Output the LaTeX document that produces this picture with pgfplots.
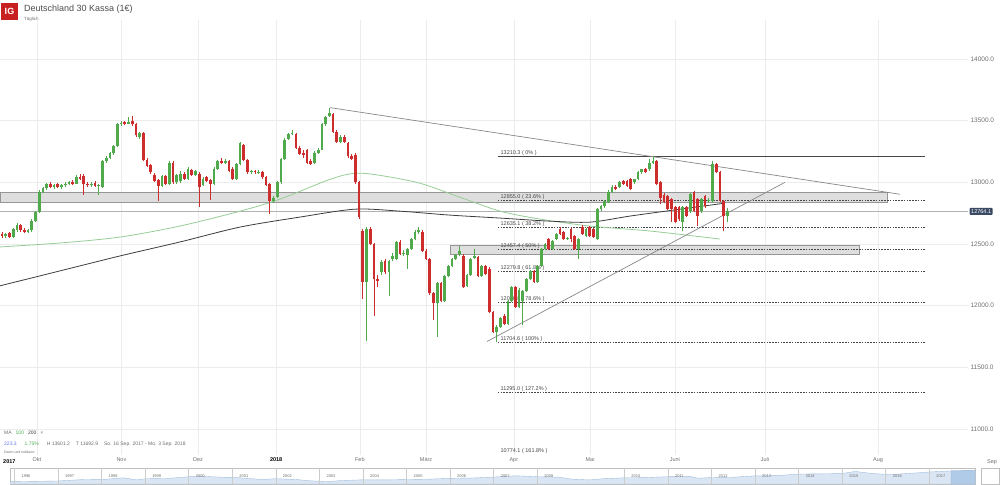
\documentclass[border=0pt]{standalone}
\usepackage{pgfplots}
\usepackage{pgfplotstable}
\pgfplotsset{compat=1.18}
\usepackage{fontspec}
\setmainfont{Liberation Sans}

\definecolor{upc}{RGB}{80,170,75}
\definecolor{dnc}{RGB}{205,45,45}
\definecolor{gridc}{RGB}{236,236,236}
\definecolor{fibc}{RGB}{70,70,70}
\definecolor{maone}{RGB}{150,205,150}
\definecolor{matwo}{RGB}{60,60,60}
\definecolor{trendc}{RGB}{135,135,135}
\definecolor{bandf}{RGB}{222,222,222}
\definecolor{bandd}{RGB}{150,150,150}
\definecolor{pricebox}{RGB}{59,74,100}
\definecolor{navfill}{RGB}{218,230,243}
\definecolor{navline}{RGB}{160,190,220}
\definecolor{navsel}{RGB}{175,203,232}
\definecolor{igred}{RGB}{200,32,32}
\definecolor{txtc}{RGB}{110,110,110}

% daily candles: index, open, high, low, close
\pgfplotstableread{
i o h l c
0 12580 12600 12550 12565
1 12565 12590 12550 12580
2 12585 12600 12550 12560
3 12560 12630 12545 12620
4 12615 12670 12600 12655
5 12655 12665 12600 12610
6 12615 12630 12590 12600
7 12595 12625 12585 12610
8 12610 12700 12600 12690
9 12690 12770 12680 12760
10 12760 12935 12750 12925
11 12925 12965 12915 12955
12 12955 12995 12940 12985
13 12985 13000 12955 12965
14 12960 12990 12945 12980
15 12985 12995 12950 12960
16 12960 12985 12945 12975
17 12975 13000 12965 12990
18 12985 13010 12975 13000
19 13000 13015 12980 12990
20 12990 13060 12985 13045
21 13045 13065 13020 13030
22 13050 13070 12900 12990
23 12990 13000 12960 12975
24 12975 13000 12965 12990
25 12995 13010 12960 12970
26 12970 12985 12900 12975
27 12960 13180 12955 13170
28 13170 13210 13160 13200
29 13200 13245 13190 13235
30 13235 13300 13225 13290
31 13290 13480 13285 13470
32 13470 13495 13460 13480
33 13490 13500 13465 13475
34 13475 13530 13470 13490
35 13500 13540 13460 13470
36 13470 13480 13370 13380
37 13365 13410 13350 13400
38 13400 13410 13170 13180
39 13180 13195 13120 13130
40 13140 13150 13070 13080
41 13060 13075 13000 13010
42 13020 13030 12850 12970
43 12970 13060 12960 13050
44 13050 13060 12980 12990
45 12990 13170 12980 13160
46 13160 13170 12990 13000
47 13000 13070 12990 13060
48 13010 13090 12995 13070
49 13070 13080 13020 13030
50 13030 13120 13020 13110
51 13100 13110 13050 13060
52 13060 13100 13050 13090
53 13070 13080 12800 12960
54 12980 13040 12970 13030
55 13040 13050 13000 13010
56 13020 13030 12860 12990
57 12990 13120 12980 13110
58 13110 13180 13100 13170
59 13170 13200 13150 13160
60 13160 13190 13150 13170
61 13170 13180 13080 13090
62 13110 13120 13020 13030
63 13030 13160 13020 13145
64 13145 13330 13140 13320
65 13300 13310 13170 13180
66 13180 13190 13070 13080
67 13080 13100 13070 13090
68 13090 13100 13070 13080
69 13080 13100 13070 13085
70 13085 13095 13030 13040
71 13040 13050 12970 12980
72 12985 12995 12740 12845
73 12850 12890 12830 12870
74 12880 13010 12870 13000
75 13000 13195 12990 13185
76 13185 13355 13180 13345
77 13350 13400 13340 13390
78 13390 13420 13380 13400
79 13390 13400 13270 13280
80 13280 13290 13220 13230
81 13240 13260 13200 13220
82 13260 13270 13150 13160
83 13170 13185 13140 13150
84 13160 13250 13150 13240
85 13240 13280 13230 13265
86 13265 13480 13260 13470
87 13470 13535 13460 13525
88 13540 13605 13530 13560
89 13550 13560 13400 13410
90 13410 13420 13320 13330
91 13330 13380 13320 13370
92 13370 13380 13320 13330
93 13320 13330 13200 13210
94 13210 13230 13180 13190
95 13225 13235 12990 13000
96 13000 13010 12700 12720
97 12605 12620 12056 12195
98 12195 12640 11710 12620
99 12620 12640 12490 12500
100 12500 12510 11920 12220
101 12220 12250 12150 12200
102 12270 12370 12250 12355
103 12360 12380 12260 12270
104 12270 12370 12080 12360
105 12380 12430 12360 12400
106 12380 12525 12370 12515
107 12515 12530 12410 12420
108 12420 12450 12400 12430
109 12410 12470 12300 12460
110 12460 12550 12450 12540
111 12540 12610 12530 12600
112 12600 12640 12580 12610
113 12600 12610 12435 12445
114 12445 12460 12370 12380
115 12380 12390 12090 12100
116 12100 12110 11880 12020
117 12020 12190 11750 12180
118 12180 12190 12030 12040
119 12040 12250 12030 12240
120 12240 12330 12230 12320
121 12320 12390 12310 12380
122 12380 12420 12370 12410
123 12420 12480 12400 12440
124 12405 12415 12140 12150
125 12160 12260 12150 12250
126 12250 12390 12240 12380
127 12390 12460 12380 12400
128 12395 12405 12230 12240
129 12240 12330 12230 12320
130 12320 12330 12250 12260
131 12300 12310 11940 11950
132 11950 11960 11780 11790
133 11790 11840 11705 11830
134 11830 11910 11820 11900
135 11920 11930 11840 11850
136 11850 12050 11840 12040
137 12040 12160 12030 12150
138 12150 12160 11980 11990
139 11990 12140 11980 12130
140 12040 12130 11840 12120
141 12120 12225 12110 12215
142 12215 12290 12205 12280
143 12280 12290 12185 12195
144 12195 12330 12185 12320
145 12320 12470 12310 12460
146 12460 12510 12450 12500
147 12540 12550 12450 12460
148 12460 12530 12450 12525
149 12540 12590 12530 12580
150 12620 12640 12570 12580
151 12595 12605 12530 12540
152 12540 12560 12530 12550
153 12620 12630 12515 12540
154 12565 12575 12450 12460
155 12460 12550 12380 12540
156 12635 12650 12575 12580
157 12565 12630 12555 12620
158 12635 12645 12555 12565
159 12620 12630 12545 12555
160 12540 12790 12530 12780
161 12780 12815 12770 12805
162 12805 12855 12795 12845
163 12840 12935 12830 12925
164 12925 12975 12915 12965
165 12965 12975 12935 12945
166 12960 13010 12950 13000
167 13010 13020 12975 12985
168 13010 13020 12960 12970
169 13025 13035 12935 12945
170 13000 13030 12990 13025
171 13025 13090 13015 13080
172 13080 13110 13070 13105
173 13105 13115 13075 13080
174 13105 13185 13095 13160
175 13160 13215 13150 13170
176 13170 13180 12975 12985
177 13000 13010 12825 12870
178 12900 12910 12830 12840
179 12885 12895 12775 12785
180 12865 12875 12680 12785
181 12800 12810 12670 12680
182 12800 12810 12690 12700
183 12680 12805 12605 12800
184 12800 12810 12715 12725
185 12765 12910 12755 12905
186 12920 12930 12760 12770
187 12865 12875 12645 12725
188 12765 12870 12755 12865
189 12885 12895 12795 12805
190 12850 12870 12840 12860
191 12845 13170 12835 13145
192 13145 13160 13075 13080
193 13080 13090 12840 12850
194 12850 12860 12605 12725
195 12725 12790 12680 12764.1
}\dax

% DAX history for the navigator strip
\pgfplotstableread{
yr v
1995.9 2200
1996.5 2550
1997.0 2900
1997.6 4300
1998.0 4200
1998.5 5900
1998.8 4000
1999.0 5000
1999.5 5300
2000.0 6900
2000.2 7600
2000.8 6400
2001.0 6400
2001.7 4300
2002.0 5100
2002.5 4200
2002.8 3000
2003.2 2300
2003.5 3300
2004.0 4000
2004.5 3900
2005.0 4250
2005.5 4600
2006.0 5400
2006.5 5700
2007.0 6600
2007.5 7900
2008.0 7000
2008.5 6500
2008.8 4600
2009.2 3900
2009.5 5000
2010.0 5900
2010.5 6100
2011.0 7000
2011.5 7300
2011.7 5500
2012.0 6200
2012.5 6500
2013.0 7800
2013.5 8000
2014.0 9500
2014.5 9700
2015.0 10000
2015.3 12000
2015.7 10000
2016.1 9000
2016.5 10000
2017.0 11500
2017.5 12500
2018.05 12900
}\nav

\begin{document}
\begin{tikzpicture}
\useasboundingbox (0,0) rectangle (1000pt,-484pt);

% header
\fill[igred] (1pt,-3pt) rectangle (18pt,-20pt);
\node[text=white, font=\bfseries\fontsize{9}{9}\selectfont] at (9.5pt,-11.5pt) {IG};
\node[anchor=west, inner sep=0pt, text=black!70, font=\fontsize{9}{10}\selectfont] at (24pt,-9pt) {Deutschland 30 Kassa (1€)};
\node[anchor=west, inner sep=0pt, text=txtc, font=\fontsize{4.5}{5}\selectfont] at (24pt,-19pt) {Täglich};

\begin{axis}[
  at={(0pt,-455pt)}, anchor=south west,
  scale only axis, width=968pt, height=435pt,
  xmin=-0.54, xmax=259.7,
  ymin=10790, ymax=14315,
  axis line style={draw=none},
  tick style={draw=none},
  clip mode=individual,
  grid=major,
  grid style={gridc, line width=0.6pt},
  ytick={11000,11500,12000,12500,13000,13500,14000},
  scaled y ticks=false,
  yticklabel pos=right,
  yticklabel style={text=txtc, font=\fontsize{6.5}{7}\selectfont, xshift=-1pt,
    /pgf/number format/fixed, /pgf/number format/fixed zerofill,
    /pgf/number format/precision=1, /pgf/number format/1000 sep={},
    /pgf/number format/assume math mode=true},
  xtick={9.4,32.1,52.7,73.7,96.2,114,137.6,158.1,180.9,205.1,235.5},
  xticklabels={Okt,Nov,Dez,{\textbf{\color{black}2018}},Feb,März,Apr,Mai,Juni,Juli,Aug},
  xticklabel style={text=txtc, font=\fontsize{5.5}{6}\selectfont, yshift=1pt},
]
% support / resistance zones
\addplot[fill=bandf, draw=bandd, line width=0.7pt] coordinates {(-0.54,12840)(237.9,12840)(237.9,12920)(-0.54,12920)} -- cycle;
\addplot[fill=bandf, draw=bandd, line width=0.7pt] coordinates {(120.4,12420)(230.6,12420)(230.6,12488)(120.4,12488)} -- cycle;

% current price line
\addplot[gray!60, line width=0.4pt] coordinates {(-0.54,12764.1)(259.7,12764.1)};

% Fibonacci retracement
\addplot[fibc, line width=0.6pt] coordinates {(133.3,13210.3)(248.1,13210.3)};
\addplot[fibc, line width=0.6pt, dash pattern=on 1.6pt off 1.2pt] coordinates {(133.3,12855.0)(248.1,12855.0)};
\addplot[fibc, line width=0.6pt, dash pattern=on 1.6pt off 1.2pt] coordinates {(133.3,12635.1)(248.1,12635.1)};
\addplot[fibc, line width=0.6pt, dash pattern=on 1.6pt off 1.2pt] coordinates {(133.3,12457.4)(248.1,12457.4)};
\addplot[fibc, line width=0.6pt, dash pattern=on 1.6pt off 1.2pt] coordinates {(133.3,12279.8)(248.1,12279.8)};
\addplot[fibc, line width=0.6pt, dash pattern=on 1.6pt off 1.2pt] coordinates {(133.3,12026.8)(248.1,12026.8)};
\addplot[fibc, line width=0.6pt, dash pattern=on 1.6pt off 1.2pt] coordinates {(133.3,11704.6)(248.1,11704.6)};
\addplot[fibc, line width=0.6pt, dash pattern=on 1.6pt off 1.2pt] coordinates {(133.3,11295.0)(248.1,11295.0)};

\begin{scope}[every node/.style={anchor=base west, inner sep=0pt, text=fibc, font=\fontsize{5.5}{6}\selectfont}]
\node at (axis cs:134,13210.3) [yshift=2pt] {13210.3 ( 0\% )};
\node at (axis cs:134,12855.0) [yshift=2pt] {12855.0 ( 23.6\% )};
\node at (axis cs:134,12635.1) [yshift=2pt] {12635.1 ( 38.2\% )};
\node at (axis cs:134,12457.4) [yshift=2pt] {12457.4 ( 50\% )};
\node at (axis cs:134,12279.8) [yshift=2pt] {12279.8 ( 61.8\% )};
\node at (axis cs:134,12026.8) [yshift=2pt] {12026.8 ( 78.6\% )};
\node at (axis cs:134,11704.6) [yshift=2pt] {11704.6 ( 100\% )};
\node at (axis cs:134,11295.0) [yshift=2pt] {11295.0 ( 127.2\% )};
\node at (axis cs:134,10810) {10774.1 ( 161.8\% )};
\end{scope}

% moving averages
\addplot[maone, line width=0.8pt, smooth] coordinates {
(-0.54,12476)(15.6,12508)(31.7,12556)(47.8,12645)(64.0,12766)(74.7,12863)
(88.2,13024)(94.9,13073)(101.6,13056)(112.4,12992)(123.1,12879)(133.9,12766)
(144.6,12702)(158.1,12645)(174.2,12605)(193.0,12540)};
\addplot[matwo, line width=0.8pt, smooth] coordinates {
(-0.54,12161)(15.6,12282)(31.7,12403)(47.8,12516)(64.0,12637)(80.1,12718)
(94.9,12782)(107.0,12766)(120.4,12734)(133.9,12710)(147.3,12685)(158.1,12677)
(168.8,12726)(182.3,12782)(194.4,12831)};

% trend lines
\addplot[trendc, line width=0.7pt] coordinates {(88.2,13605)(241.4,12903)};
\addplot[trendc, line width=0.7pt] coordinates {(130.4,11710)(210.5,13000)};

% candles: wicks and bodies
\addplot[draw=none, mark=none, forget plot,
  restrict expr to domain={\thisrow{c}-\thisrow{o}}{0:100000},
  error bars/.cd, y dir=plus, y explicit, error mark=none,
  error bar style={draw=upc, line width=0.7pt}]
  table[x=i, y=l, y error plus expr=\thisrow{h}-\thisrow{l}] {\dax};
\addplot[draw=none, mark=none, forget plot,
  restrict expr to domain={\thisrow{o}-\thisrow{c}}{0.001:100000},
  error bars/.cd, y dir=plus, y explicit, error mark=none,
  error bar style={draw=dnc, line width=0.7pt}]
  table[x=i, y=l, y error plus expr=\thisrow{h}-\thisrow{l}] {\dax};
\addplot[draw=none, mark=none, forget plot,
  restrict expr to domain={\thisrow{c}-\thisrow{o}}{0:100000},
  error bars/.cd, y dir=plus, y explicit, error mark=none,
  error bar style={draw=upc, line width=2.7pt}]
  table[x=i, y=o, y error plus expr=\thisrow{c}-\thisrow{o}] {\dax};
\addplot[draw=none, mark=none, forget plot,
  restrict expr to domain={\thisrow{o}-\thisrow{c}}{0.001:100000},
  error bars/.cd, y dir=plus, y explicit, error mark=none,
  error bar style={draw=dnc, line width=2.7pt}]
  table[x=i, y=c, y error plus expr=\thisrow{o}-\thisrow{c}] {\dax};

% last price tag
\node[anchor=west, fill=pricebox, text=white, inner xsep=1.5pt, inner ysep=1.5pt, rounded corners=0.8pt,
  font=\fontsize{5.5}{6}\selectfont] at (axis cs:259.7,12764.1) [xshift=1.5pt] {12764.1};
\end{axis}

% extra month labels outside the ticks
\node[anchor=west, inner sep=0pt, font=\bfseries\fontsize{5.5}{6}\selectfont] at (3pt,-462pt) {2017};
\node[inner sep=0pt, text=txtc, font=\fontsize{5.5}{6}\selectfont] at (992pt,-462pt) {Sep};

% indicator legend
\node[anchor=west, inner sep=0pt, font=\fontsize{5}{6}\selectfont, text=txtc] at (4pt,-433pt)
  {MA\hspace{4pt}{\color{upc}100}\hspace{4pt}{\color{matwo}200}\hspace{4pt}×};
\node[anchor=west, inner sep=0pt, font=\fontsize{5}{6}\selectfont, text=txtc] at (4pt,-444pt)
  {{\color{navline!60!blue}223.3}\hspace{8pt}{\color{upc}1.75\%}\hspace{8pt}H 13601.2\hspace{6pt}T 11692.9\hspace{6pt}So. 16 Sep. 2017 - Mo. 3 Sep. 2018};
\node[anchor=west, inner sep=0pt, font=\fontsize{3.5}{4}\selectfont, text=txtc] at (4pt,-452pt) {Daten und Indikator};

% navigator strip
\begin{axis}[
  at={(10pt,-484pt)}, anchor=south west,
  scale only axis, width=965pt, height=16pt,
  xmin=1995.9, xmax=2018.05, ymin=0, ymax=15300,
  axis line style={draw=black!25, line width=0.5pt},
  ticks=none,
  clip mode=individual,
]
\addplot[fill=navfill, draw=navline, line width=0.4pt] table[x=yr, y=v] {\nav} \closedcycle;
\addplot[fill=navsel, draw=navline, line width=0.5pt, restrict x to domain=2017.3:2018.1] table[x=yr, y=v] {\nav} \closedcycle;
\pgfplotsinvokeforeach{1996,1997,1998,1999,2000,2001,2002,2003,2004,2005,2006,2007,2008,2010,2011,2012,2013,2014,2015,2016,2017}{
  \draw[black!20, line width=0.5pt] (axis cs:#1,0) -- (axis cs:#1,15300);
  \node[anchor=west, inner sep=0pt, text=txtc, font=\fontsize{4}{5}\selectfont] at (axis cs:#1,7650) [xshift=7pt] {#1};
}
\end{axis}
\draw[black!25, line width=0.5pt] (981pt,-468pt) rectangle (999pt,-484pt);
\end{tikzpicture}
\end{document}
